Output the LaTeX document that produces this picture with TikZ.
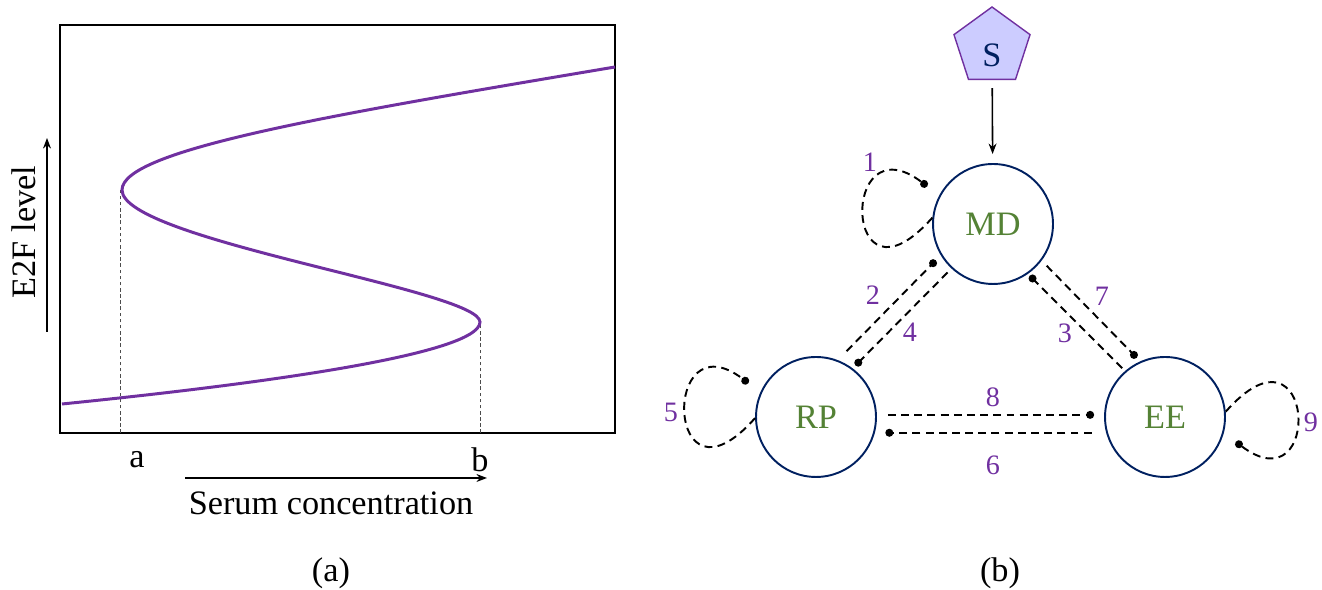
\documentclass[tikz,border=0pt]{standalone}
\usepackage{fontspec}
\setmainfont{Liberation Serif}
\usepackage{tikz}
\usetikzlibrary{positioning,arrows.meta,shapes.geometric}
\definecolor{curvepurple}{RGB}{112,48,160}
\definecolor{nodenavy}{RGB}{0,32,96}
\definecolor{labelgreen}{RGB}{84,130,53}
\definecolor{signalfill}{RGB}{204,204,255}

\begin{document}
\begin{tikzpicture}[
  x=0.02cm, y=0.02cm,
  txt/.style={font=\fontsize{19.5}{22}\selectfont, inner sep=0pt},
  state/.style={circle, draw=nodenavy, line width=1.1pt,
    minimum size=2.4cm, inner sep=0pt, text=labelgreen,
    font=\fontsize{19.5}{22}\selectfont},
  signal/.style={regular polygon, regular polygon sides=5,
    draw=curvepurple, fill=signalfill, line width=0.8pt,
    minimum size=1.6cm, inner sep=0pt, text=nodenavy,
    text height=0.78cm, text depth=0pt,
    font=\fontsize{19.5}{22}\selectfont},
  num/.style={text=curvepurple, font=\fontsize{16}{18}\selectfont, inner sep=0pt},
  inh/.style={dash pattern=on 4.5pt off 3pt, line width=1.1pt,
    -{Circle[length=4.5pt]}, shorten <=0.12cm, shorten >=0.1cm},
  arr/.style={-{Stealth[length=6pt,width=4.5pt]}, line width=0.9pt},
  guide/.style={dash pattern=on 2pt off 1.5pt, line width=0.5pt, black!70},
]
\useasboundingbox (0,0) rectangle (1322,590);

% (a) bifurcation curve
\draw[line width=1.1pt] (60,157) rectangle (615,565);
\draw[guide] (120,157) -- (120,400);
\draw[guide] (480,157) -- (480,268);
\draw[curvepurple, line width=1.7pt]
  (62,186) .. controls (250,205) and (480,235) .. (480,268)
  .. controls (480,300) and (122,350) .. (122,400)
  .. controls (122,440) and (330,475) .. (615,523);
\node[txt] (a) at (137,130) {a};
\node[txt] (b) at (480,130) {b};
\coordinate (xs) at (185,112);
\coordinate (xe) at (487,112);
\draw[arr] (xs) -- (xe);
\node[txt] (xlab) at (331,87) {Serum concentration};
\coordinate (ys) at (47,258);
\coordinate (ye) at (47,452);
\draw[arr] (ys) -- (ye);
\node[txt, rotate=90] (ylab) at (24,358) {E2F level};
\node[txt] (capa) at (331,17) {(a)};

% (b) network
\node[signal] (S) at (992,543) {S};
\node[state] (MD) at (993,366) {MD};
\node[state] (RP) at (816,173) {RP};
\node[state] (EE) at (1165,173) {EE};
\draw[arr, shorten <=0.16cm, shorten >=0.18cm] (S) -- (MD);

\draw[inh, shorten <=0.25cm, shorten >=0.14cm] (RP.69) -- (MD.211);
\draw[inh, shorten <=0.11cm, shorten >=0.08cm] (MD.227) -- (RP.53);
\draw[inh, shorten <=0.14cm] (MD.323) -- (EE.114);
\draw[inh, shorten <=0.08cm, shorten >=0.05cm] (EE.131) -- (MD.305);
\draw[inh, shorten <=0.22cm, shorten >=0.2cm] (RP.2) -- (EE.178);
\draw[inh, shorten <=0.29cm, shorten >=0.21cm] (EE.195) -- (RP.345);

\draw[inh, shorten <=0pt, shorten >=0.3cm]
  (MD.174) .. controls +(-90,-102) and +(-100,76) .. (MD.152);
\draw[inh, shorten <=0pt, shorten >=0.3cm]
  (RP.181) .. controls +(-90,-102) and +(-100,76) .. (RP.156);
\draw[inh, shorten <=0pt, shorten >=0.3cm]
  (EE.5) .. controls +(90,102) and +(100,-76) .. (EE.345);

\node[num] (n1) at (870,428) {1};
\node[num] (n2) at (873,295) {2};
\node[num] (n3) at (1065,257) {3};
\node[num] (n4) at (910,258) {4};
\node[num] (n5) at (671,178) {5};
\node[num] (n6) at (993,125) {6};
\node[num] (n7) at (1102,294) {7};
\node[num] (n8) at (993,193) {8};
\node[num] (n9) at (1311,168) {9};
\node[txt] (capb) at (1000,17) {(b)};
\end{tikzpicture}
\end{document}
